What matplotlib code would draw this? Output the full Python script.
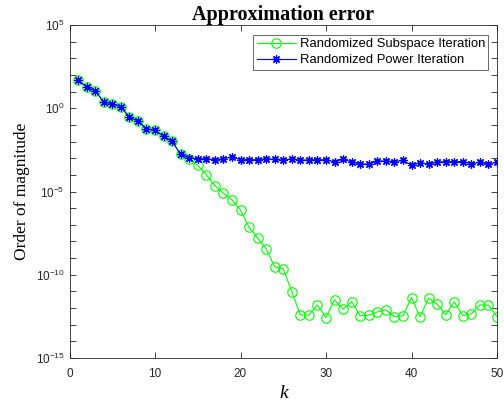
import numpy as np
import matplotlib
matplotlib.use("Agg")
import matplotlib.pyplot as plt
from matplotlib.ticker import FixedLocator, FuncFormatter, NullFormatter

k = list(range(1, 51))
# log10 of the approximation error
subspace_log10 = [1.69, 1.28, 1.04, 0.38, 0.28, 0.08, -0.52, -0.78, -1.22, -1.33,
                  -1.69, -1.99, -2.77, -3.03, -3.43, -3.99, -4.64, -5.10, -5.50, -6.10,
                  -7.15, -7.79, -8.45, -9.52, -9.64, -11.01, -12.41, -12.43, -11.81, -12.57,
                  -11.51, -12.07, -11.61, -12.47, -12.43, -12.23, -12.11, -12.51, -12.47, -11.37,
                  -12.53, -11.40, -11.77, -12.41, -11.63, -12.45, -12.35, -11.81, -11.83, -12.51]
power_log10 = [1.69, 1.28, 1.04, 0.38, 0.28, 0.08, -0.52, -0.78, -1.22, -1.33,
               -1.69, -1.99, -2.77, -2.97, -3.03, -3.03, -3.09, -3.03, -2.93, -3.09,
               -3.09, -3.09, -3.03, -3.07, -3.13, -3.03, -3.13, -3.09, -3.09, -3.09,
               -3.23, -3.05, -3.23, -3.33, -3.37, -3.17, -3.17, -3.21, -3.13, -3.42,
               -3.27, -3.36, -3.23, -3.21, -3.21, -3.21, -3.33, -3.25, -3.33, -3.25]
x_ticks = [0, 10, 20, 30, 40, 50]
y_major_exp = [5, 0, -5, -10, -15]

plt.rcParams['mathtext.fontset'] = 'custom'
plt.rcParams['mathtext.rm'] = 'Liberation Sans'
plt.rcParams['mathtext.it'] = 'Liberation Sans:italic'

subspace = 10.0 ** np.array(subspace_log10)
power = 10.0 ** np.array(power_log10)

fig = plt.figure(figsize=(5.04, 4.09), dpi=100)
ax = fig.add_axes([69.5/504, 1-358/409, (497-69.5)/504, (358-25)/409])

ax.plot(k, subspace, color='#00FF00', lw=0.8, marker='o', markersize=6.8,
        markerfacecolor='none', markeredgecolor='#00FF00', markeredgewidth=0.8,
        label='Randomized Subspace Iteration')
ax.plot(k, power, color='#0000FF', lw=0.8, marker=(8, 2, 0), markersize=6,
        markeredgecolor='#0000FF', markeredgewidth=0.9,
        label='Randomized Power Iteration')

ax.set_yscale('log')
ax.set_xlim(0, 50)
ax.set_ylim(1e-15, 1e5)
ax.xaxis.set_major_locator(FixedLocator(x_ticks))
ax.yaxis.set_major_locator(FixedLocator([10.0**e for e in y_major_exp]))
ax.yaxis.set_minor_locator(FixedLocator([10.0**e for e in range(-15, 6)]))
ax.yaxis.set_minor_formatter(NullFormatter())
ax.yaxis.set_major_formatter(FuncFormatter(lambda v, p: r'$10^{%d}$' % int(round(np.log10(v)))))

ax.tick_params(axis='both', which='both', direction='in', top=True, right=True,
               length=4, width=0.6, labelsize=8.5, colors='#262626')
ax.tick_params(axis='x', pad=7)
for lab in ax.get_xticklabels() + ax.get_yticklabels():
    lab.set_fontfamily('Liberation Sans')
for s in ax.spines.values():
    s.set_linewidth(0.6)
    s.set_color('#262626')

ax.set_title('Approximation error', fontfamily='Liberation Serif', fontweight='bold',
             fontsize=14.5, pad=3)
ax.set_ylabel('Order of magnitude', fontfamily='Liberation Serif', fontsize=12.5, labelpad=4)
ax.set_xlabel('k', fontfamily='Liberation Serif', fontstyle='italic', fontsize=14, labelpad=3.5)

leg = ax.legend(loc='upper right', bbox_to_anchor=(0.98, 0.97), prop={'family': 'Liberation Sans', 'size': 9.4},
                frameon=True, fancybox=False, borderaxespad=0, handlelength=3.0,
                handletextpad=0.3, borderpad=0.25, labelspacing=0.3)
leg.get_frame().set_edgecolor('#262626')
leg.get_frame().set_linewidth(0.6)

fig.savefig('out.png', dpi=100)
